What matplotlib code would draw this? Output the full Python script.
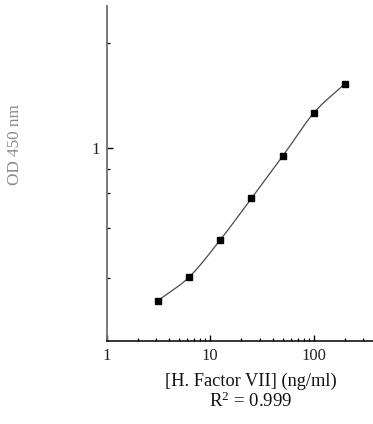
import numpy as np
import matplotlib
matplotlib.use('Agg')
import matplotlib.pyplot as plt
from matplotlib.ticker import FixedLocator, NullFormatter, LogLocator

plt.rcParams['font.family'] = ['Liberation Serif', 'DejaVu Serif']
plt.rcParams['mathtext.fontset'] = 'custom'
plt.rcParams['mathtext.rm'] = 'Liberation Serif'
plt.rcParams['mathtext.it'] = 'Liberation Serif:italic'

# standard curve
conc = [3.125, 6.25, 12.5, 25, 50, 100, 200]
od = [0.173, 0.227, 0.348, 0.562, 0.912, 1.50, 2.10]
x_ticks = [1, 10, 100]
x_tick_labels = ['1', '10', '100']
y_ticks = [1]
y_minor = [0.224, 0.4, 0.6, 0.788, 3.37]


def smooth(xs, ys, n=30):
    # catmull-rom through the points in log-log space, just for the drawn line
    lx = np.log10(xs)
    ly = np.log10(ys)
    px = np.concatenate([[2 * lx[0] - lx[1]], lx, [2 * lx[-1] - lx[-2]]])
    py = np.concatenate([[2 * ly[0] - ly[1]], ly, [2 * ly[-1] - ly[-2]]])
    out_x, out_y = [], []
    t = np.linspace(0, 1, n)
    for i in range(1, len(px) - 2):
        for p, out in ((px, out_x), (py, out_y)):
            p0, p1, p2, p3 = p[i - 1], p[i], p[i + 1], p[i + 2]
            seg = 0.5 * (2 * p1 + (-p0 + p2) * t + (2 * p0 - 5 * p1 + 4 * p2 - p3) * t ** 2
                         + (-p0 + 3 * p1 - 3 * p2 + p3) * t ** 3)
            out.extend(seg)
    return 10 ** np.array(out_x), 10 ** np.array(out_y)


fig = plt.figure(figsize=(3.73, 4.24), dpi=100)
ax = fig.add_axes([106.7 / 373, 83 / 424, 267 / 373, 335 / 424])

cx, cy = smooth(conc, od)
ax.plot(cx, cy, color='#4a4a4a', lw=0.9)
ax.plot(conc, od, 's', color='black', ms=4.2)

ax.set_xscale('log')
ax.set_yscale('log')
ax.set_xlim(1, 380)
ax.set_ylim(0.1088, 5.145)

ax.xaxis.set_major_locator(FixedLocator(x_ticks))
ax.set_xticklabels(x_tick_labels)
ax.xaxis.set_minor_locator(LogLocator(base=10, subs=np.arange(2, 10)))
ax.xaxis.set_minor_formatter(NullFormatter())
ax.yaxis.set_major_locator(FixedLocator(y_ticks))
ax.set_yticklabels(['1'])
ax.yaxis.set_minor_locator(FixedLocator(y_minor))
ax.yaxis.set_minor_formatter(NullFormatter())

for s in ('top', 'right'):
    ax.spines[s].set_visible(False)
ax.spines['left'].set_color('#6e6e6e')
ax.spines['left'].set_linewidth(1.3)
ax.spines['bottom'].set_color('black')
ax.spines['bottom'].set_linewidth(1.1)

ax.tick_params(which='major', direction='in', length=4, width=1, labelsize=12,
               labelcolor='#222222', pad=5)
ax.tick_params(which='minor', direction='in', length=2.2, width=0.9)

fig.text(251 / 373, 1 - 381 / 424, '[H. Factor VII] (ng/ml)', ha='center', va='center',
         fontsize=13.2, color='#111111')
fig.text(251 / 373, 1 - 401 / 424, r'R$^2$ = 0.999', ha='center', va='center',
         fontsize=13.5, color='#111111')
fig.text(15 / 373, 1 - 145 / 424, 'OD 450 nm', ha='center', va='center', rotation=90,
         fontsize=12.3, color='#8a8a8a')

fig.savefig('out.png', dpi=100)
